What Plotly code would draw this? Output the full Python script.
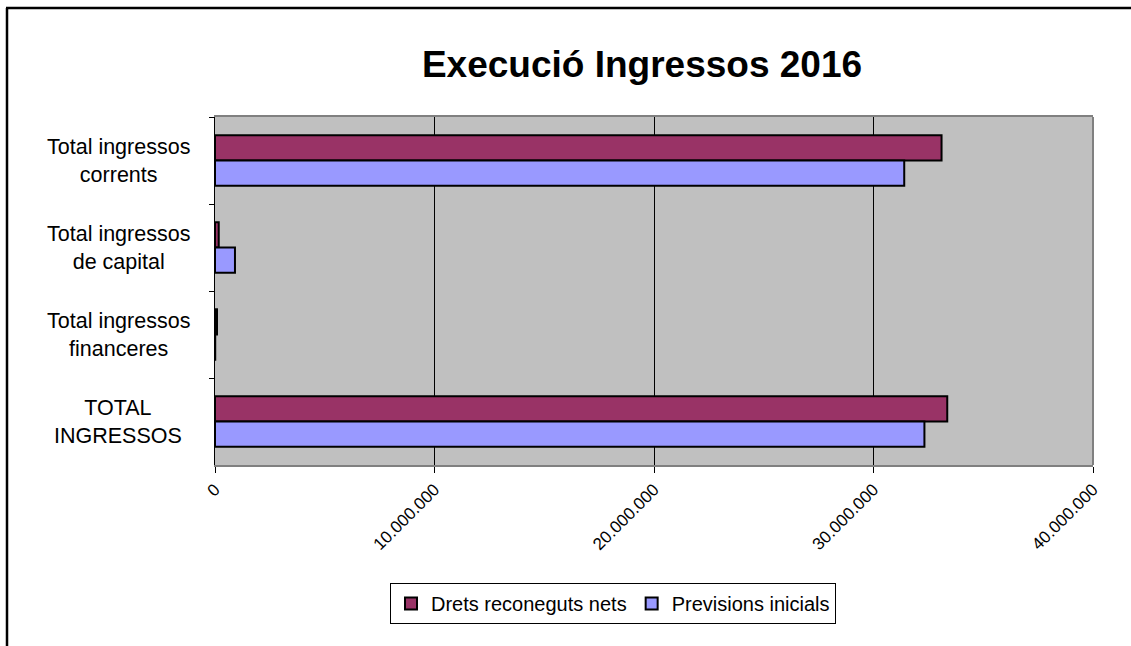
import plotly.graph_objects as go

categories = ["Total ingressos corrents", "Total ingressos de capital",
              "Total ingressos financeres", "TOTAL INGRESSOS"]
label_lines = [["Total ingressos", "corrents"],
               ["Total ingressos", "de capital"],
               ["Total ingressos", "financeres"],
               ["TOTAL", "INGRESSOS"]]
drets = [33100000, 170000, 90000, 33360000]
previsions = [31400000, 910000, 10000, 32320000]
series_names = ["Drets reconeguts nets", "Previsions inicials"]
x_ticks = [0, 10000000, 20000000, 30000000, 40000000]

W, H = 1131, 646
L, R, T, B = 215, 1093, 117, 465
pw, ph = R - L, B - T

def px_x(x):
    return (x - L) / pw

def px_y(y):
    return (B - y) / ph

fig = go.Figure()
fig.add_trace(go.Bar(y=categories, x=drets, orientation="h", name=series_names[0],
                     marker=dict(color="#993366", line=dict(color="black", width=2))))
fig.add_trace(go.Bar(y=categories, x=previsions, orientation="h", name=series_names[1],
                     marker=dict(color="#9999FF", line=dict(color="black", width=2))))

annotations = []
for cat, lines in zip(categories, label_lines):
    annotations.append(dict(
        text="<br>".join(lines), xref="paper", yref="y", x=px_x(118), y=cat,
        xanchor="center", yanchor="middle", align="center", showarrow=False,
        font=dict(family="Liberation Sans, Arial", size=21.5, color="black")))

shapes = [
    # outer chart border (left and top)
    dict(type="line", xref="paper", yref="paper", x0=px_x(7), x1=px_x(7),
         y0=px_y(8), y1=px_y(700), line=dict(color="black", width=2.5)),
    dict(type="line", xref="paper", yref="paper", x0=px_x(6), x1=px_x(1140),
         y0=px_y(8), y1=px_y(8), line=dict(color="black", width=2.5)),
    # right plot border
    dict(type="line", xref="paper", yref="paper", x0=1, x1=1, y0=0, y1=1,
         line=dict(color="#808080", width=2)),
]

fig.update_layout(
    width=W, height=H,
    margin=dict(l=L, r=W - R, t=T, b=H - B, pad=0),
    paper_bgcolor="white", plot_bgcolor="#C0C0C0",
    separators=",.",
    barmode="group", bargap=0.42, bargroupgap=0,
    title=dict(text="<b>Execució Ingressos 2016</b>", x=642 / W, xanchor="center",
               y=1 - 64 / H, yanchor="middle",
               font=dict(family="Liberation Sans, Arial", size=37, color="black")),
    font=dict(family="Liberation Sans, Arial", color="black"),
    legend=dict(orientation="h", x=px_x(613), xanchor="center", y=px_y(583), yanchor="top",
                bordercolor="black", borderwidth=1, bgcolor="white",
                font=dict(size=20), itemsizing="constant", traceorder="normal"),
    annotations=annotations,
    shapes=shapes,
)
fig.update_xaxes(range=[0, 40000000], tickvals=x_ticks, tickformat=",.0f",
                 tickangle=-45, ticks="outside", ticklen=6, tickcolor="black",
                 tickfont=dict(size=17, color="black"),
                 showgrid=True, gridcolor="black", gridwidth=1, zeroline=False,
                 showline=True, linecolor="#808080", linewidth=2, mirror=True)
fig.update_yaxes(type="category", autorange="reversed", showticklabels=False,
                 tickson="boundaries", ticks="outside", ticklen=5, tickcolor="black",
                 showgrid=False, zeroline=False,
                 showline=True, linecolor="black", linewidth=1)

fig.write_html("out.html", config={"displayModeBar": False},
               post_script="document.body.style.margin='0';document.body.style.overflow='hidden';")
